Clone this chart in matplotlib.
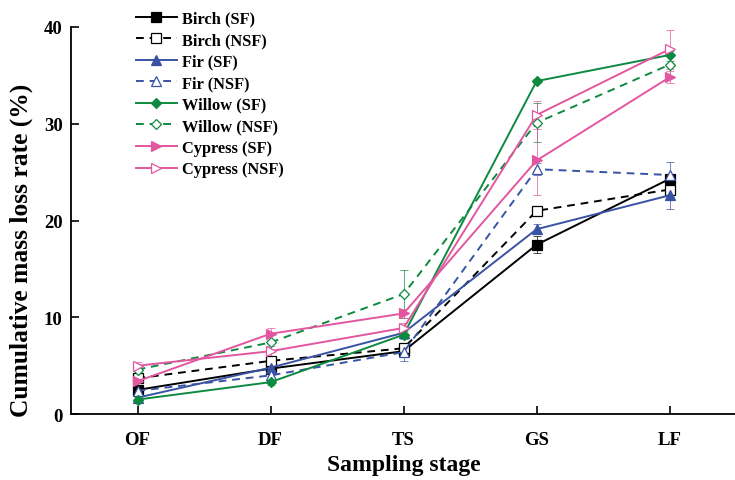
import numpy as np
import matplotlib
matplotlib.use("Agg")
import matplotlib.pyplot as plt

plt.rcParams['font.family'] = ['Liberation Serif', 'DejaVu Serif']
plt.rcParams['font.weight'] = 'bold'

stages = ['OF', 'DF', 'TS', 'GS', 'LF']

birch_sf = [2.5, 4.7, 6.5, 17.5, 24.3]
birch_nsf = [3.7, 5.5, 6.8, 21.0, 23.2]
fir_sf = [1.7, 4.8, 8.4, 19.1, 22.6]
fir_nsf = [2.4, 4.0, 6.4, 25.3, 24.7]
willow_sf = [1.5, 3.3, 8.2, 34.4, 37.1]
willow_nsf = [4.6, 7.4, 12.4, 30.1, 36.1]
cypress_sf = [3.4, 8.3, 10.4, 26.2, 34.8]
cypress_nsf = [5.0, 6.5, 8.9, 30.9, 37.7]

birch_sf_err = [0.4, 0.4, 0.4, 0.9, 0.5]
birch_nsf_err = [0.3, 0.4, 0.5, 0.3, 0.6]
fir_sf_err = [0.5, 0.5, 0.4, 0.5, 1.4]
fir_nsf_err = [0.5, 0.5, 0.9, 0.6, 1.3]
willow_sf_err = [0.3, 0.3, 0.4, 0.2, 0.6]
willow_nsf_err = [0.4, 0.8, 2.5, 2.0, 1.4]
cypress_sf_err = [0.4, 0.6, 0.5, 3.6, 0.6]
cypress_nsf_err = [0.4, 0.5, 0.5, 1.4, 2.0]

black = 'black'
blue = '#3953a4'
green = '#0d8a3f'
pink = '#e2579f'

series = [
    ('Birch (SF)', birch_sf, birch_sf_err, black, 's', True, '-'),
    ('Birch (NSF)', birch_nsf, birch_nsf_err, black, 's', False, '--'),
    ('Fir (SF)', fir_sf, fir_sf_err, blue, '^', True, '-'),
    ('Fir (NSF)', fir_nsf, fir_nsf_err, blue, '^', False, '--'),
    ('Willow (SF)', willow_sf, willow_sf_err, green, 'D', True, '-'),
    ('Willow (NSF)', willow_nsf, willow_nsf_err, green, 'D', False, '--'),
    ('Cypress (SF)', cypress_sf, cypress_sf_err, pink, '>', True, '-'),
    ('Cypress (NSF)', cypress_nsf, cypress_nsf_err, pink, '>', False, '-'),
]

fig = plt.figure(figsize=(7.35, 4.81), dpi=100)
ax = fig.add_axes([0.0966, 0.137, 0.905, 0.805])
x = np.arange(len(stages))

for name, vals, err, c, m, filled, ls in series:
    ax.errorbar(x, vals, yerr=err, fmt='none', ecolor=c, elinewidth=0.7,
                capsize=3, capthick=0.7, alpha=0.7, zorder=2)
    ms = 6.5 if m != 'D' else 5.5
    line, = ax.plot(x, vals, color=c, linestyle=ls, linewidth=1.4,
                    marker=m, markersize=ms,
                    markerfacecolor=c if filled else 'white',
                    markeredgecolor=c, markeredgewidth=0.9,
                    label=name, zorder=3)
    if ls == '--':
        line.set_dashes((4, 3))

ax.set_xlim(-0.5, 4.5)
ax.set_ylim(0, 40)
ax.set_yticks([0, 10, 20, 30, 40])
ax.set_xticks(x)
ax.set_xticklabels(stages)
ax.spines['top'].set_visible(False)
ax.spines['right'].set_visible(False)
ax.spines['left'].set_linewidth(1.3)
ax.spines['bottom'].set_linewidth(1.3)
ax.tick_params(direction='in', length=6, width=1.2, labelsize=13.5)
ax.tick_params(axis='x', pad=12)
ax.tick_params(axis='y', pad=6)

ax.set_ylabel('Cumulative mass loss rate (%)', fontsize=18.4, fontweight='bold')
ax.yaxis.set_label_coords(-0.057, 0.426)
ax.set_xlabel('Sampling stage', fontsize=17, fontweight='bold')
ax.xaxis.set_label_coords(0.5, -0.104)

ax.legend(loc='upper left', bbox_to_anchor=(0.176, 0.99), bbox_transform=fig.transFigure,
          frameon=False, fontsize=11.8, handlelength=2.5, labelspacing=0.34,
          handletextpad=0.3, borderaxespad=0)

fig.savefig('out.png', dpi=100)
